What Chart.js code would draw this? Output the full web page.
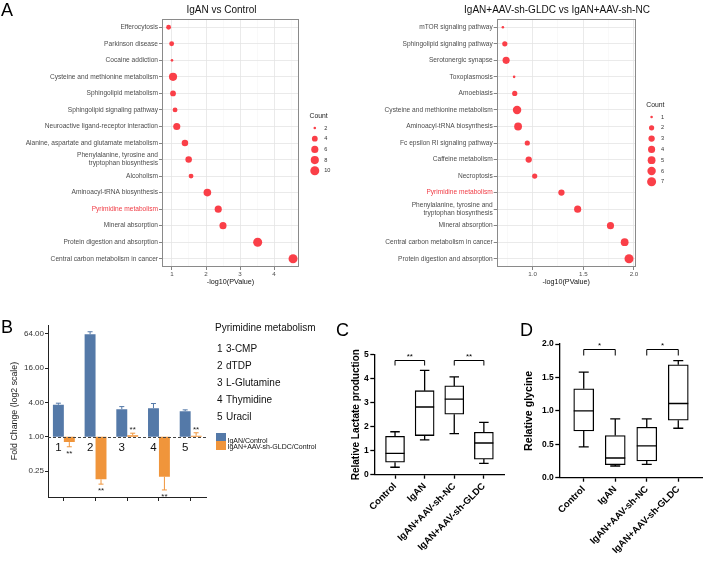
<!DOCTYPE html>
<html>
<head>
<meta charset="utf-8">
<script src="https://cdn.jsdelivr.net/npm/chart.js@4.4.1/dist/chart.umd.min.js"></script>
<style>
  body { margin: 0; width: 705px; height: 562px; position: relative; overflow: hidden; background: #fff;
         font-family: 'Liberation Sans', Arial, Helvetica, sans-serif; color: #111; }
  canvas { position: absolute; }
  .t { position: absolute; white-space: nowrap; line-height: 1; }
  .letter { font-size: 18px; color: #000; }
  .sw { position: absolute; width: 10px; }
</style>
</head>
<body>
<canvas id="dotCtrl" width="350" height="292" style="left:0;top:0"></canvas>
<canvas id="dotSh" width="355" height="292" style="left:350px;top:0"></canvas>
<canvas id="chartB" width="210" height="200" style="left:0;top:310px"></canvas>
<canvas id="chartC" width="185" height="242" style="left:335px;top:320px"></canvas>
<canvas id="chartD" width="185" height="242" style="left:520px;top:320px"></canvas>

<div class="t letter" style="left:1px;top:1px">A</div>
<div class="t" style="left:221.5px;top:5px;font-size:10px;transform:translateX(-50%)">IgAN vs Control</div>
<div class="t" style="left:557px;top:5px;font-size:10px;transform:translateX(-50%)">IgAN+AAV-sh-GLDC vs IgAN+AAV-sh-NC</div>
<div class="t letter" style="left:1px;top:318px">B</div>
<div class="t letter" style="left:336px;top:321px">C</div>
<div class="t letter" style="left:520px;top:321px">D</div>

<div id="legendB"></div>

<script>
// ---- A: KEGG enrichment dot plots ----
const pathwaysCtrl = ['Efferocytosis', 'Parkinson disease', 'Cocaine addiction',
  'Cysteine and methionine metabolism', 'Sphingolipid metabolism', 'Sphingolipid signaling pathway',
  'Neuroactive ligand-receptor interaction', 'Alanine, aspartate and glutamate metabolism',
  ['Phenylalanine, tyrosine and', 'tryptophan biosynthesis'], 'Alcoholism', 'Aminoacyl-tRNA biosynthesis',
  'Pyrimidine metabolism', 'Mineral absorption', 'Protein digestion and absorption',
  'Central carbon metabolism in cancer'];
const pvalCtrl = [0.90, 0.99, 1.00, 1.03, 1.03, 1.09, 1.14, 1.38, 1.49, 1.56, 2.04, 2.36, 2.50, 3.52, 4.56];
const countCtrl = [3, 3, 2, 8, 4, 3, 6, 5, 5, 3, 7, 6, 6, 10, 10];
const countBreaksCtrl = [2, 4, 6, 8, 10];

const pathwaysSh = ['mTOR signaling pathway', 'Sphingolipid signaling pathway', 'Serotonergic synapse',
  'Toxoplasmosis', 'Amoebiasis', 'Cysteine and methionine metabolism', 'Aminoacyl-tRNA biosynthesis',
  'Fc epsilon RI signaling pathway', 'Caffeine metabolism', 'Necroptosis', 'Pyrimidine metabolism',
  ['Phenylalanine, tyrosine and', 'tryptophan biosynthesis'], 'Mineral absorption',
  'Central carbon metabolism in cancer', 'Protein digestion and absorption'];
const pvalSh = [0.706, 0.725, 0.738, 0.817, 0.823, 0.846, 0.856, 0.947, 0.961, 1.02, 1.284, 1.444, 1.768, 1.908, 1.951];
const countSh = [1, 2, 4, 1, 2, 6, 5, 2, 3, 2, 3, 4, 4, 5, 7];
const countBreaksSh = [1, 2, 3, 4, 5, 6, 7];

// ---- B: pyrimidine metabolites fold change ----
const metaboliteIds = ['1', '2', '3', '4', '5'];
const metaboliteNames = ['3-CMP', 'dTDP', 'L-Glutamine', 'Thymidine', 'Uracil'];
const fcIgAN = [3.65, 63, 3.06, 3.19, 2.83];
const fcIgANErr = [3.9, 70, 3.4, 3.85, 2.98];
const fcGLDC = [0.81, 0.18, 1.07, 0.20, 1.05];
const fcGLDCErr = [0.67, 0.148, 1.16, 0.117, 1.18];
const starsGLDC = ['**', '**', '**', '**', '**'];
const fcTicks = [0.25, 1, 4, 16, 64];

// ---- C / D: box plots ----
const groups = ['Control', 'IgAN', 'IgAN+AAV-sh-NC', 'IgAN+AAV-sh-GLDC'];
const lactateMin = [0.31, 1.45, 1.71, 0.47];
const lactateQ1 = [0.52, 1.63, 2.52, 0.65];
const lactateMedian = [0.89, 2.82, 3.15, 1.32];
const lactateQ3 = [1.60, 3.50, 3.70, 1.77];
const lactateMax = [1.79, 4.35, 4.08, 2.18];
const lactateTicks = [0, 1, 2, 3, 4, 5];
const lactateStars = ['**', '**'];

const glycineMin = [0.46, 0.175, 0.20, 0.74];
const glycineQ1 = [0.70, 0.195, 0.25, 0.86];
const glycineMedian = [1.00, 0.295, 0.475, 1.11];
const glycineQ3 = [1.33, 0.63, 0.755, 1.69];
const glycineMax = [1.58, 0.88, 0.88, 1.75];
const glycineTicks = [0, 0.5, 1.0, 1.5, 2.0];
const glycineStars = ['*', '*'];

const comparePairs = [[0, 1], [2, 3]];

const FONT = "'Liberation Sans', Arial, Helvetica, sans-serif";
Chart.defaults.font.family = FONT;
Chart.defaults.animation = false;
Chart.defaults.responsive = false;
Chart.defaults.devicePixelRatio = 1;
Chart.defaults.events = [];
Chart.defaults.plugins.legend.display = false;
Chart.defaults.plugins.tooltip.enabled = false;

const dotRed = '#fa3f48';
const blue = '#5479a8';
const orange = '#f0953b';

function dotRadius(count, breaks) {
    const lo = breaks[0], hi = breaks[breaks.length - 1];
    return 1.3 + Math.sqrt((count - lo) / (hi - lo)) * 3.2;
}

const dotFrame = {
    id: 'dotFrame',
    beforeDatasetsDraw(chart) {
        const {ctx, chartArea: a} = chart;
        ctx.save();
        ctx.strokeStyle = '#8a8a8a';
        ctx.lineWidth = 1;
        ctx.strokeRect(Math.round(a.left) + 0.5, Math.round(a.top) + 0.5, Math.round(a.width) - 1, Math.round(a.height) - 1);
        ctx.restore();
    }
};

const countLegend = {
    id: 'countLegend',
    afterDraw(chart, args, o) {
        const ctx = chart.ctx;
        ctx.save();
        ctx.textBaseline = 'middle';
        ctx.fillStyle = '#222';
        ctx.font = `6.8px ${FONT}`;
        ctx.fillText('Count', o.x, o.titleY);
        ctx.font = `5.6px ${FONT}`;
        o.breaks.forEach((b, i) => {
            const y = o.y0 + i * o.dy;
            ctx.fillStyle = dotRed;
            ctx.beginPath();
            ctx.arc(o.x + 5.3, y, dotRadius(b, o.breaks), 0, Math.PI * 2);
            ctx.fill();
            ctx.fillStyle = '#333';
            ctx.fillText(String(b), o.x + 14.7, y);
        });
        ctx.restore();
    }
};

function makeDot(id, labels, pvals, counts, breaks, ax, legend) {
    const isMajor = v => Math.abs(v / ax.major - Math.round(v / ax.major)) < 1e-6;
    return new Chart(document.getElementById(id), {
        type: 'bubble',
        data: {
            yLabels: labels,
            datasets: [{
                data: pvals.map((p, i) => ({x: p, y: i, r: dotRadius(counts[i], breaks)})),
                backgroundColor: dotRed,
                borderWidth: 0,
                clip: false
            }]
        },
        options: {
            layout: {padding: ax.pad},
            scales: {
                x: {
                    type: 'linear', min: ax.min, max: ax.max,
                    ticks: {
                        stepSize: ax.step, includeBounds: false, autoSkip: false, maxRotation: 0,
                        callback: v => isMajor(v) ? ax.fmt(v) : '',
                        font: {size: 6.2}, color: '#4d4d4d', padding: 1
                    },
                    grid: {
                        color: c => isMajor(c.tick.value) ? '#e4e4e4' : '#f2f2f2',
                        lineWidth: c => isMajor(c.tick.value) ? 0.8 : 0.5,
                        tickLength: 3,
                        tickColor: c => isMajor(c.tick.value) ? '#666' : 'rgba(0,0,0,0)'
                    },
                    border: {display: false},
                    title: {display: true, text: '-log10(PValue)', color: '#111', font: {size: 7.2}, padding: {top: 0, bottom: 5.7}},
                    afterFit: s => { s.height = 25; }
                },
                y: {
                    type: 'category', offset: true,
                    ticks: {
                        autoSkip: false, padding: 1,
                        font: {size: 6.6, lineHeight: 1.25},
                        color: c => labels[c.index] === 'Pyrimidine metabolism' ? '#f03c45' : '#4d4d4d'
                    },
                    grid: {offset: false, color: '#e4e4e4', lineWidth: 0.8, tickLength: 3, tickColor: '#666'},
                    border: {display: false},
                    afterFit: s => { s.width = ax.yw; }
                }
            },
            plugins: {countLegend: legend}
        },
        plugins: [dotFrame, countLegend]
    });
}

makeDot('dotCtrl', pathwaysCtrl, pvalCtrl, countCtrl, countBreaksCtrl,
    {min: 0.706, max: 4.735, step: 0.5, major: 1, fmt: v => String(v), yw: 162,
     pad: {left: 0, right: 51, top: 19, bottom: 0}},
    {breaks: countBreaksCtrl, x: 309.5, titleY: 116, y0: 128, dy: 10.7});

makeDot('dotSh', pathwaysSh, pvalSh, countSh, countBreaksSh,
    {min: 0.645, max: 2.017, step: 0.25, major: 0.5, fmt: v => v.toFixed(1), yw: 146.7,
     pad: {left: 0, right: 69.3, top: 19, bottom: 0}},
    {breaks: countBreaksSh, x: 296.3, titleY: 105, y0: 117, dy: 10.8});

// ---- B ----
const foldLine = {
    id: 'foldLine',
    afterDatasetsDraw(chart) {
        const {ctx, chartArea: a, scales: {y}} = chart;
        const y1 = Math.round(y.getPixelForValue(1)) + 0.5;
        ctx.save();
        ctx.setLineDash([3, 2]);
        ctx.strokeStyle = '#444';
        ctx.lineWidth = 1;
        ctx.beginPath();
        ctx.moveTo(a.left, y1);
        ctx.lineTo(a.right, y1);
        ctx.stroke();
        ctx.setLineDash([]);
        ctx.fillStyle = '#111';
        ctx.font = `11.5px ${FONT}`;
        ctx.textAlign = 'center';
        ctx.textBaseline = 'middle';
        chart.getDatasetMeta(0).data.forEach((bar, i) => {
            ctx.fillText(chart.data.labels[i], bar.x, y1 + 10);
        });
        ctx.restore();
    }
};

const errorBars = {
    id: 'errorBars',
    afterDatasetsDraw(chart) {
        const {ctx, scales: {y}} = chart;
        ctx.save();
        ctx.lineWidth = 1;
        ctx.textAlign = 'center';
        ctx.textBaseline = 'middle';
        ctx.font = `8px ${FONT}`;
        chart.data.datasets.forEach((ds, d) => {
            chart.getDatasetMeta(d).data.forEach((bar, i) => {
                const end = ds.data[i][1];
                const pe = y.getPixelForValue(end);
                const pr = y.getPixelForValue(ds.errorTo[i]);
                ctx.strokeStyle = ds.backgroundColor;
                ctx.beginPath();
                ctx.moveTo(bar.x, pe);
                ctx.lineTo(bar.x, pr);
                ctx.moveTo(bar.x - 2.5, pr);
                ctx.lineTo(bar.x + 2.5, pr);
                ctx.stroke();
                if (ds.stars && ds.stars[i]) {
                    ctx.fillStyle = '#222';
                    const up = ds.errorTo[i] > end;
                    ctx.fillText(ds.stars[i], bar.x, up ? pr - 3 : pr + 7);
                }
            });
        });
        ctx.restore();
    }
};

new Chart(document.getElementById('chartB'), {
    type: 'bar',
    data: {
        labels: metaboliteIds,
        datasets: [
            {label: 'IgAN/Control', data: fcIgAN.map(v => [1, v]), backgroundColor: blue,
             errorTo: fcIgANErr, categoryPercentage: 0.69, barPercentage: 1},
            {label: 'IgAN+AAV-sh-GLDC/Control', data: fcGLDC.map(v => [1, v]), backgroundColor: orange,
             errorTo: fcGLDCErr, stars: starsGLDC, categoryPercentage: 0.69, barPercentage: 1}
        ]
    },
    options: {
        layout: {padding: {left: 0, right: 3.5, top: 15, bottom: 0}},
        scales: {
            x: {
                ticks: {display: false},
                grid: {drawOnChartArea: false, offset: false, tickLength: 4, tickColor: '#222'},
                border: {color: '#222', width: 1},
                afterFit: s => { s.height = 13; }
            },
            y: {
                type: 'logarithmic', min: 0.088, max: 92,
                afterBuildTicks: s => { s.ticks = fcTicks.map(v => ({value: v})); },
                ticks: {callback: v => Number(v).toFixed(2), font: {size: 8}, color: '#333', padding: 1, autoSkip: false},
                grid: {drawOnChartArea: false, tickLength: 3, tickColor: '#222'},
                border: {color: '#222', width: 1},
                title: {display: true, text: 'Fold Change (log2 scale)', color: '#222', font: {size: 8.8}, padding: {top: 9.7, bottom: 0}},
                afterFit: s => { s.width = 48; }
            }
        }
    },
    plugins: [foldLine, errorBars]
});

// B legend (HTML text)
(function () {
    const box = document.getElementById('legendB');
    let html = '<div class="t" style="left:215px;top:323px;font-size:10px">Pyrimidine metabolism</div>';
    metaboliteNames.forEach((name, i) => {
        const top = 344 + i * 17;
        html += `<div class="t" style="left:217px;top:${top}px;font-size:10px">${metaboliteIds[i]}</div>`;
        html += `<div class="t" style="left:226px;top:${top}px;font-size:10px">${name}</div>`;
    });
    html += `<div class="sw" style="left:216px;top:432.5px;height:8.5px;background:${blue}"></div>`;
    html += `<div class="sw" style="left:216px;top:441px;height:9px;background:${orange}"></div>`;
    html += '<div class="t" style="left:227.5px;top:437px;font-size:7px">IgAN/Control</div>';
    html += '<div class="t" style="left:227.5px;top:443px;font-size:7px">IgAN+AAV-sh-GLDC/Control</div>';
    box.innerHTML = html;
})();

// ---- C / D box plots ----
const boxParts = {
    id: 'boxParts',
    afterDatasetsDraw(chart) {
        const {ctx, scales: {y}} = chart;
        const ds = chart.data.datasets[0];
        ctx.save();
        ctx.strokeStyle = '#000';
        ctx.lineWidth = 1.3;
        chart.getDatasetMeta(0).data.forEach((bar, i) => {
            const half = bar.width / 2, cap = bar.width * 0.25;
            const pm = y.getPixelForValue(ds.median[i]);
            const p1 = y.getPixelForValue(ds.data[i].y[0]);
            const p3 = y.getPixelForValue(ds.data[i].y[1]);
            const pl = y.getPixelForValue(ds.low[i]);
            const ph = y.getPixelForValue(ds.high[i]);
            ctx.beginPath();
            ctx.moveTo(bar.x - half, pm); ctx.lineTo(bar.x + half, pm);
            ctx.moveTo(bar.x, p3); ctx.lineTo(bar.x, ph);
            ctx.moveTo(bar.x - cap, ph); ctx.lineTo(bar.x + cap, ph);
            ctx.moveTo(bar.x, p1); ctx.lineTo(bar.x, pl);
            ctx.moveTo(bar.x - cap, pl); ctx.lineTo(bar.x + cap, pl);
            ctx.stroke();
        });
        ctx.restore();
    }
};

const brackets = {
    id: 'brackets',
    afterDraw(chart, args, o) {
        const {ctx, scales: {x, y}} = chart;
        ctx.save();
        ctx.strokeStyle = '#000';
        ctx.fillStyle = '#000';
        ctx.lineWidth = 1;
        ctx.textAlign = 'center';
        ctx.textBaseline = 'alphabetic';
        ctx.font = `8px ${FONT}`;
        o.pairs.forEach(([a, b], k) => {
            const x1 = x.getPixelForValue(a), x2 = x.getPixelForValue(b);
            const yb = Math.round(y.getPixelForValue(o.level)) + 0.5;
            ctx.beginPath();
            ctx.moveTo(x1, yb + o.drop);
            ctx.lineTo(x1, yb);
            ctx.lineTo(x2, yb);
            ctx.lineTo(x2, yb + o.drop);
            ctx.stroke();
            ctx.fillText(o.labels[k], (x1 + x2) / 2, yb - 1.3);
        });
        ctx.restore();
    }
};

function makeBox(id, c) {
    return new Chart(document.getElementById(id), {
        type: 'bar',
        data: {
            datasets: [{
                data: groups.map((g, i) => ({x: i, y: [c.q1[i], c.q3[i]]})),
                median: c.median, low: c.low, high: c.high,
                backgroundColor: '#fff', borderColor: '#000', borderWidth: 1.3, borderSkipped: false,
                barThickness: c.boxW
            }]
        },
        options: {
            layout: {padding: c.pad},
            scales: {
                x: {
                    type: 'linear', min: c.xmin, max: c.xmax, offset: false,
                    afterBuildTicks: s => { s.ticks = groups.map((g, i) => ({value: i})); },
                    ticks: {
                        callback: v => groups[Math.round(v)], autoSkip: false, minRotation: 45, maxRotation: 45,
                        font: {size: 9.5, weight: 'bold'}, color: '#000', padding: 2
                    },
                    grid: {drawOnChartArea: false, offset: false, tickLength: 4, tickColor: '#000', tickWidth: 1.3},
                    border: {color: '#000', width: 1.3},
                    afterFit: s => { s.height = c.xh; }
                },
                y: {
                    min: 0, max: c.ymax,
                    afterBuildTicks: s => { s.ticks = c.ticks.map(v => ({value: v})); },
                    ticks: {callback: c.fmt, font: {size: 8.5, weight: 'bold'}, color: '#000', padding: 1.5},
                    grid: {drawOnChartArea: false, tickLength: 4, tickColor: '#000', tickWidth: 1.3},
                    border: {color: '#000', width: 1.3},
                    title: {display: true, text: c.title, color: '#000', font: {size: c.titleSize, weight: 'bold'},
                            padding: {top: c.titlePad, bottom: 0}},
                    afterFit: s => { s.width = 39.3; }
                }
            },
            plugins: {brackets: {pairs: comparePairs, labels: c.stars, level: c.level, drop: c.drop}}
        },
        plugins: [boxParts, brackets]
    });
}

makeBox('chartC', {
    q1: lactateQ1, q3: lactateQ3, median: lactateMedian, low: lactateMin, high: lactateMax,
    ticks: lactateTicks, ymax: 5, fmt: v => String(v), stars: lactateStars, level: 4.77, drop: 5,
    title: 'Relative Lactate production', titleSize: 10, titlePad: 15,
    boxW: 19, xmin: -0.7, xmax: 3.68, xh: 87.3,
    pad: {left: 0, right: 16, top: 34.7, bottom: 0}
});

makeBox('chartD', {
    q1: glycineQ1, q3: glycineQ3, median: glycineMedian, low: glycineMin, high: glycineMax,
    ticks: glycineTicks, ymax: 2, fmt: v => Number(v).toFixed(1), stars: glycineStars, level: 1.93, drop: 6,
    title: 'Relative glycine', titleSize: 10.6, titlePad: 2.7,
    boxW: 20, xmin: -0.775, xmax: 3.775, xh: 84.3,
    pad: {left: 0, right: 2.3, top: 24, bottom: 0}
});
</script>
</body>
</html>
